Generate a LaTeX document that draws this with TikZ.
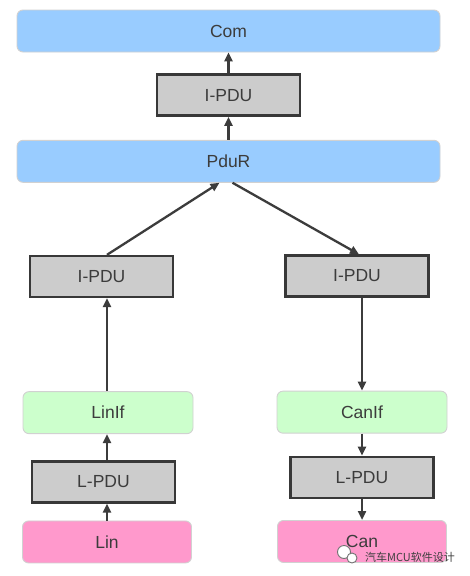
\documentclass[tikz,border=0pt]{standalone}
\usepackage{fontspec}
\setmainfont{Liberation Sans}
\newfontfamily\cjkfont{Noto Sans CJK SC}
\usetikzlibrary{positioning,arrows.meta}

\definecolor{layerblue}{HTML}{99CCFF}
\definecolor{ifgreen}{HTML}{CCFFCC}
\definecolor{drvpink}{HTML}{FF99CC}
\definecolor{pdugray}{HTML}{CCCCCC}
\definecolor{textgray}{HTML}{3C3C3C}
\definecolor{linegray}{HTML}{3C3C3C}

\tikzset{
  box/.style={rounded corners=6pt, draw=black!18, line width=0.9pt, minimum height=42pt,
    text=textgray, font=\fontsize{17.5}{19}\selectfont},
  upper/.style={box, fill=layerblue, minimum width=423pt},
  iface/.style={box, fill=ifgreen, minimum width=170pt},
  driver/.style={box, fill=drvpink, minimum width=169pt},
  pdu/.style={draw=black!78, fill=pdugray, line width=2.4pt, minimum width=143pt, minimum height=41pt,
    text=textgray, font=\fontsize{17.5}{19}\selectfont},
  conn/.style={-{Triangle[length=9pt,width=8pt]}, line width=2.3pt, draw=linegray},
}

\begin{document}
\begin{tikzpicture}[x=1pt,y=1pt]
  \useasboundingbox[fill=white] (0,0) rectangle (469,-576);
  \node[upper] (com) at (228.5,-31) {Com};
  \node[pdu,below=21pt of com] (ipdu) {I-PDU};
  \node[upper,below=23pt of ipdu] (pdur) {PduR};
  % Lin side
  \node[pdu] (ipduL) at (101.5,-276.5) {I-PDU};
  \node[iface,below=93pt of ipduL,xshift=6.5pt] (linif) {LinIf};
  \node[pdu,below=26pt of linif,xshift=-4.5pt] (lpduL) {L-PDU};
  \node[driver,below=17pt of lpduL,xshift=3.5pt] (lin) {Lin};
  % Can side
  \node[pdu] (ipduR) at (357,-276) {I-PDU};
  \node[iface,below=93pt of ipduR,xshift=5pt] (canif) {CanIf};
  \node[pdu,below=22pt of canif] (lpduR) {L-PDU};
  \node[driver,below=21pt of lpduR] (can) {Can};
  \draw[conn] (ipdu.north) -- (com.south);
  \draw[conn] (pdur.north) -- (ipdu.south);
  \draw[conn] (ipduL.north -| lin.north) -- ([xshift=-9pt]pdur.south);
  \draw[conn] ([xshift=4pt]pdur.south) -- ([xshift=2pt]ipduR.north);
  \draw[conn] (linif.north -| lin.north) -- (ipduL.south -| lin.north);
  \draw[conn] (lpduL.north -| lin.north) -- (linif.south -| lin.north);
  \draw[conn] (lin.north) -- (lin.north |- lpduL.south);
  \draw[conn] (ipduR.south -| canif.north) -- (canif.north);
  \draw[conn] (canif.south) -- (lpduR.north -| canif.south);
  \draw[conn] (lpduR.south -| canif.south) -- (can.north -| canif.south);
  % watermark
  \draw[black!55, fill=white, line width=0.9pt] (344,-552) circle (6.5pt);
  \draw[black!55, fill=white, line width=0.9pt] (352,-558) circle (5pt);
  \node[text=black!75, font=\cjkfont\fontsize{11}{12}\selectfont, inner sep=1pt] (wm) at (410,-557) {汽车MCU软件设计};
\end{tikzpicture}
\end{document}
